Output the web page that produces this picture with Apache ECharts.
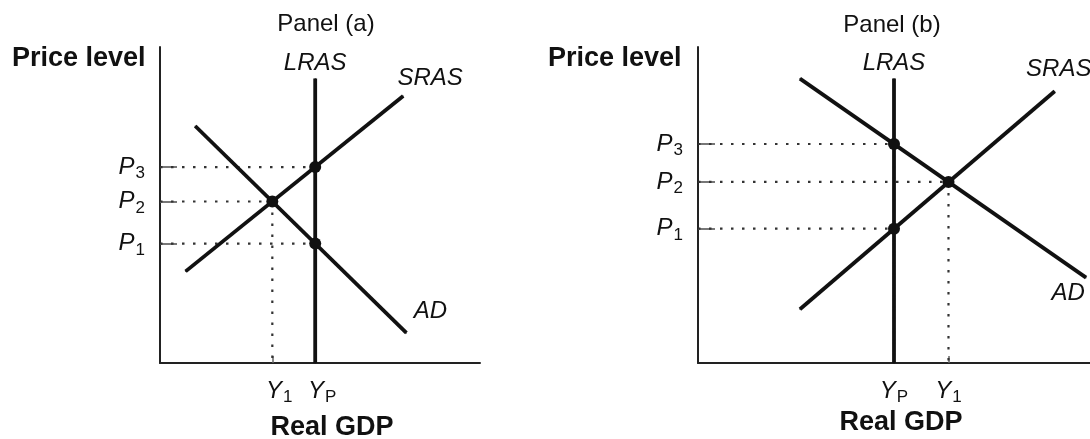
<!DOCTYPE html>
<html>
<head>
<meta charset="utf-8">
<script src="https://cdn.jsdelivr.net/npm/echarts@6/dist/echarts.min.js"></script>
<style>
  html, body { margin: 0; padding: 0; background: #fff; }
  #chart { width: 1090px; height: 439px; }
</style>
</head>
<body>
<div id="chart"></div>
<script>
  // panel (a): AD falls, economy sits below potential
  const aPriceLevels = [37.8, 51.1, 62]          // P1, P2, P3
  const aPriceSubs = ['1', '2', '3']
  const aOutputLevels = [35.1, 48.5]             // Y1, YP
  const aOutputSubs = ['1', 'P']
  const aLRAS = [[48.5, 0], [48.5, 90]]
  const aSRAS = [[8, 29], [76, 84.5]]
  const aAD = [[11, 75], [77, 9.5]]
  const aPoints = [[48.5, 37.8], [35.1, 51.1], [48.5, 62]]

  // panel (b): AD rises, economy sits above potential
  const bPriceLevels = [42.5, 57.3, 69.3]
  const bPriceSubs = ['1', '2', '3']
  const bOutputLevels = [50, 63.9]               // YP, Y1
  const bOutputSubs = ['P', '1']
  const bLRAS = [[50, 0], [50, 90]]
  const bSRAS = [[26, 17], [91, 86]]
  const bAD = [[26, 90], [99, 27]]
  const bPoints = [[50, 42.5], [63.9, 57.3], [50, 69.3]]

  const FONT = '"Liberation Sans", Arial, Helvetica, sans-serif'
  const INK = '#111'

  const rich = {
    i: { fontFamily: FONT, fontStyle: 'italic', fontSize: 24, color: INK },
    s: { fontFamily: FONT, fontSize: 17, color: INK, padding: [13, 0, 0, 1] }
  }

  function subFormatter (levels, subs, letter) {
    return function (value) {
      let idx = 0
      levels.forEach((l, i) => {
        if (Math.abs(l - value) < Math.abs(levels[idx] - value)) idx = i
      })
      return '{i|' + letter + '}{s|' + subs[idx] + '}'
    }
  }

  function xAxisFor (idx, levels, subs, tickAt, labelPad) {
    return {
      type: 'value', gridIndex: idx, min: 0, max: 100,
      splitLine: { show: false },
      axisLine: { show: true, onZero: false, lineStyle: { color: '#222', width: 2 } },
      axisTick: { show: true, inside: true, length: 7, customValues: tickAt, lineStyle: { color: '#666', width: 1.5 } },
      axisLabel: {
        customValues: levels, margin: 13, padding: [0, 0, 0, labelPad],
        formatter: subFormatter(levels, subs, 'Y'), rich: rich
      }
    }
  }

  function yAxisFor (idx, levels, subs) {
    return {
      type: 'value', gridIndex: idx, min: 0, max: 100,
      splitLine: { show: false },
      axisLine: { show: true, onZero: false, lineStyle: { color: '#222', width: 2 } },
      axisTick: { show: true, inside: true, length: 17, customValues: levels, lineStyle: { color: '#777', width: 2 } },
      axisLabel: {
        customValues: levels, margin: 15,
        formatter: subFormatter(levels, subs, 'P'), rich: rich
      }
    }
  }

  function curve (name, data, axis, offset) {
    return {
      type: 'line', name: name, xAxisIndex: axis, yAxisIndex: axis,
      data: data.map((p, i) => i === data.length - 1 ? {
        value: p,
        label: {
          show: true, formatter: name, position: 'top', distance: 3, offset: offset,
          fontFamily: FONT, fontStyle: 'italic', fontSize: 24, color: INK
        }
      } : p),
      symbol: 'circle', symbolSize: 1, showSymbol: true,
      itemStyle: { color: INK },
      lineStyle: { color: INK, width: 3.8 },
      silent: true, z: 3
    }
  }

  function guides (points, axis) {
    const out = []
    points.forEach(p => {
      out.push([[0, p[1]], p])
      out.push([p, [p[0], 0]])
    })
    return out.map(d => ({
      type: 'line', xAxisIndex: axis, yAxisIndex: axis, data: d,
      symbol: 'none', silent: true, z: 1,
      lineStyle: { color: '#333', width: 2.2, type: [2.5, 8.5] }
    }))
  }

  function dots (points, axis) {
    return {
      type: 'scatter', xAxisIndex: axis, yAxisIndex: axis, data: points,
      symbol: 'circle', symbolSize: 12, itemStyle: { color: INK, opacity: 1 }, silent: true, z: 5
    }
  }

  function text (str, left, top, align, bold) {
    return {
      text: str, left: left, top: top, textAlign: align, padding: 0,
      textStyle: { fontFamily: FONT, fontSize: bold ? 27 : 24, fontWeight: bold ? 'bold' : 'normal', color: INK }
    }
  }

  const chart = echarts.init(document.getElementById('chart'))
  chart.setOption({
    animation: false,
    backgroundColor: '#fff',
    title: [
      text('Panel (a)', 326, 12, 'center', false),
      text('Panel (b)', 892, 13, 'center', false),
      text('Price level', 12, 45, 'left', true),
      text('Price level', 548, 45, 'left', true),
      text('Real GDP', 332, 414, 'center', true),
      text('Real GDP', 901, 409, 'center', true)
    ],
    grid: [
      { left: 160, top: 47, width: 320, height: 316 },
      { left: 698, top: 47, width: 392, height: 316 }
    ],
    xAxis: [
      xAxisFor(0, aOutputLevels, aOutputSubs, [aOutputLevels[0]], 14),
      xAxisFor(1, bOutputLevels, bOutputSubs, [bOutputLevels[1]], 0)
    ],
    yAxis: [
      yAxisFor(0, aPriceLevels, aPriceSubs),
      yAxisFor(1, bPriceLevels, bPriceSubs)
    ],
    series: [].concat(
      guides(aPoints, 0),
      guides(bPoints, 1),
      [
        curve('LRAS', aLRAS, 0, [0, 0]),
        curve('SRAS', aSRAS, 0, [27, -2]),
        curve('AD', aAD, 0, [24, -6]),
        curve('LRAS', bLRAS, 1, [0, 0]),
        curve('SRAS', bSRAS, 1, [4, -6]),
        curve('AD', bAD, 1, [-18, 31]),
        dots(aPoints, 0),
        dots(bPoints, 1)
      ]
    )
  })
</script>
</body>
</html>
